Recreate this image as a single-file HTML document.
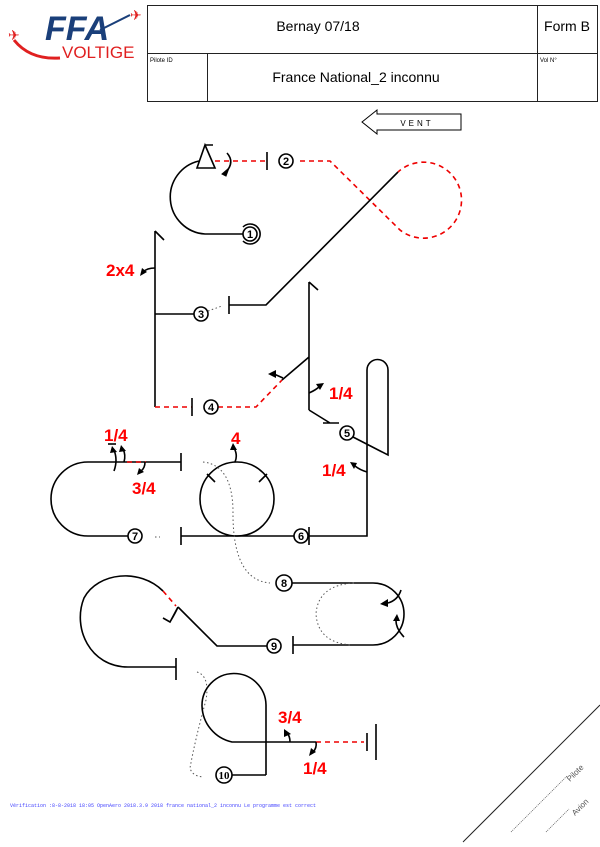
<!DOCTYPE html>
<html><head><meta charset="utf-8"><style>
body{margin:0;background:#fff;}
svg{display:block;font-family:"Liberation Sans",sans-serif;}
.k{fill:none;stroke:#000;stroke-width:1.6}
.r{fill:none;stroke:#e00;stroke-width:1.6;stroke-dasharray:5,4}
.d{fill:none;stroke:#555;stroke-width:1;stroke-dasharray:1.5,2.5}
.lab{fill:#f00;font-weight:bold;font-size:17px}
.n{font-family:"Liberation Sans",sans-serif;font-weight:bold;font-size:11px;text-anchor:middle}
</style></head><body>
<svg width="600" height="847" viewBox="0 0 600 847">
<!-- logo -->
<text x="45" y="40" font-size="34" font-style="italic" font-weight="bold" fill="#1a3f7a">FFA</text>
<text x="62" y="58" font-size="17" fill="#e02020">VOLTIGE</text>
<path d="M14,40 Q30,60 60,58" stroke="#e02020" stroke-width="3" fill="none"/>
<path d="M100,30 L130,15" stroke="#1a3f7a" stroke-width="2"/>
<text x="130" y="20" fill="#e02020" font-size="14">✈</text>
<text x="8" y="40" fill="#e02020" font-size="14">✈</text>
<!-- header -->
<g fill="none" stroke="#222" stroke-width="1">
<rect x="147.5" y="5.5" width="450" height="96"/>
<line x1="147" y1="53.5" x2="597" y2="53.5"/>
<line x1="537.5" y1="5" x2="537.5" y2="101"/>
<line x1="207.5" y1="53" x2="207.5" y2="101"/>
</g>
<text x="318" y="31" font-size="14" text-anchor="middle">Bernay 07/18</text>
<text x="567" y="31" font-size="14" text-anchor="middle">Form B</text>
<text x="150" y="62" font-size="6">Pilote ID</text>
<text x="540" y="62" font-size="6">Vol N°</text>
<text x="356" y="82" font-size="14" text-anchor="middle">France National_2 inconnu</text>
<!-- vent -->
<path d="M362,122 L377,110 L377,114 L461,114 L461,130 L377,130 L377,134 Z" fill="#fff" stroke="#000" stroke-width="1"/>
<text x="417" y="126" font-size="8" text-anchor="middle" letter-spacing="3">VENT</text>

<!-- fig1 -->
<path class="k" d="M243,234 L205,234 A37,37 0 0 1 199,161"/>
<path class="k" d="M205,145 L197,168 L215,168 Z M205,145 L213,145"/>
<path class="k" d="M227,153 Q235,162 226,172"/><path d="M222,174 L229,168 L226,176Z" stroke="#000"/>
<circle cx="250" cy="234" r="7" class="k"/>
<path class="k" stroke-width="1.2" d="M243,241 A10,10 0 1 0 243,227"/>
<text x="250" y="238" class="n">1</text>
<!-- fig2 -->
<path class="r" d="M215,161 L266,161 M300,161 L330,161 L400,230 A38,38 0 1 0 398,172"/>
<path class="k" d="M267,152 L267,170 M398,172 L266,305 L229,305 M229,296 L229,314"/>
<circle cx="286" cy="161" r="7" class="k"/><text x="286" y="165" class="n">2</text>
<!-- fig3 -->
<path class="d" d="M208,311 L222,306"/>
<circle cx="201" cy="314" r="7" class="k"/><text x="201" y="318" class="n">3</text>
<path class="k" d="M194,314 L155,314 M155,231 L155,407 M155,231 L164,240"/>
<path class="k" d="M155,268 Q147,268 143,272"/><path d="M140,276 L142,268 L147,272Z"/>
<text x="106" y="276" class="lab">2x4</text>
<!-- fig4 -->
<path class="r" d="M155,407 L192,407 M218,407 L256,407 L282,380"/>
<path class="k" d="M192,398 L192,416 M282,380 L309,357 M309,282 L309,410 M309,282 L318,290 M309,410 L330,423 M323,423 L339,423"/>
<circle cx="211" cy="407" r="7" class="k"/><text x="211" y="411" class="n">4</text>
<path class="k" d="M283,378 L274,374"/><path d="M268,374 L276,370 L276,378Z"/>
<path class="k" d="M309,393 Q316,390 320,386"/><path d="M324,383 L316,384 L320,390Z"/>
<text x="329" y="399" class="lab">1/4</text>
<!-- fig5/6 -->
<circle cx="347" cy="433" r="7" class="k"/><text x="347" y="437" class="n">5</text>
<path class="k" d="M353,437 L388,455 L388,370 A10.5,10.5 0 0 0 367,370 L367,536 L181,536 M309,527 L309,545 M181,527 L181,545"/>
<path class="k" d="M367,472 Q360,470 355,466"/><path d="M350,462 L357,463 L354,469Z"/>
<text x="322" y="476" class="lab">1/4</text>
<circle cx="301" cy="536" r="7" class="k" style="fill:#fff"/><text x="301" y="540" class="n">6</text>
<circle cx="237" cy="499" r="37" class="k"/>
<path class="k" d="M207,474 L215,482 M267,474 L259,482 M235,462 Q238,455 234,448"/><path d="M233,443 L230,450 L237,450Z"/>
<text x="231" y="444" class="lab">4</text>
<!-- fig7 -->
<path class="k" d="M181,453 L181,471 M181,462 L88,462 A37,37 0 0 0 88,536 L128,536"/>
<path class="r" d="M127,462 L146,462" stroke-dasharray="3,3"/>
<circle cx="135" cy="536" r="7" class="k"/><text x="135" y="540" class="n">7</text>
<path class="d" d="M155,537 L160,537"/>
<path class="k" d="M114,471 Q118,460 114,450 M124,462 Q126,455 123,449"/>
<path d="M112,446 L110,453 L117,452Z M121,445 L119,452 L126,451Z"/>
<path class="k" d="M108,444 L116,444" stroke-width="1"/>
<text x="104" y="441" class="lab">1/4</text>
<path class="k" d="M145,462 Q145,468 141,471"/><path d="M137,475 L139,468 L144,472Z"/>
<text x="132" y="494" class="lab">3/4</text>
<!-- dotted 6-8 -->
<path class="d" d="M203,462 Q232,465 233,510 Q232,580 270,583"/>
<!-- fig8 -->
<circle cx="284" cy="583" r="8" class="k"/><text x="284" y="587" class="n">8</text>
<path class="k" d="M292,583 L373,583 A31,31 0 0 1 373,645 L293,645 M293,636 L293,654"/>
<path class="d" d="M354,583 Q318,585 316,614 Q318,643 352,645"/>
<path class="k" d="M401,590 Q398,600 388,603 M404,637 Q395,628 396,618"/><path d="M380,604 L388,599 L388,607Z M397,614 L393,621 L400,621Z"/>
<!-- fig9 -->
<circle cx="274" cy="646" r="7" class="k"/><text x="274" y="650" class="n">9</text>
<path class="k" d="M267,646 L217,646 L178,607 M178,607 L170,622 L163,618 M170,622 Q176,612 178,607"/>
<path class="r" d="M163,591 L176,606"/>
<path class="k" d="M163,591 C140,568 98,572 84,598 C72,628 90,667 128,667 L176,667 M176,658 L176,680"/>
<!-- fig10 -->
<path class="d" d="M197,672 Q210,676 206,700 Q195,740 190,768 Q192,776 203,777"/>
<path class="k" d="M266,775 L266,705 A32,32 0 0 0 202,706 A38,38 0 0 0 232,742 L316,742"/>
<path class="k" d="M266,775 L232,775"/>
<circle cx="224" cy="775" r="8" class="k"/><text x="224" y="779" class="n" style="font-family:'Liberation Serif',serif">10</text>
<path class="r" d="M316,742 L364,742"/>
<path class="k" d="M367,733 L367,751 M376,724 L376,760" />
<path class="k" d="M290,742 Q290,736 287,733"/><path d="M284,729 L284,737 L291,734Z"/>
<path class="k" d="M316,742 Q317,748 313,752"/><path d="M309,756 L311,748 L316,752Z"/>
<text x="278" y="723" class="lab">3/4</text>
<text x="303" y="774" class="lab">1/4</text>
<!-- footer -->
<text x="10" y="807" font-size="5" fill="#4444ff" font-family="Liberation Mono,monospace">Vérification :8-8-2018 18:05 OpenAero 2018.3.9 2018 france national_2 inconnu Le programme est correct</text>
<line x1="463" y1="842" x2="600" y2="705" stroke="#222" stroke-width="1"/>
<line x1="511" y1="832" x2="567" y2="776" stroke="#444" stroke-width="0.7" stroke-dasharray="1,1"/>
<line x1="546" y1="832" x2="569" y2="809" stroke="#444" stroke-width="0.7" stroke-dasharray="1,1"/>
<text x="570" y="782" font-size="8" fill="#555" transform="rotate(-45 570 782)">Pilote</text>
<text x="575" y="816" font-size="8" fill="#555" transform="rotate(-45 575 816)">Avion</text>
</svg>
</body></html>
